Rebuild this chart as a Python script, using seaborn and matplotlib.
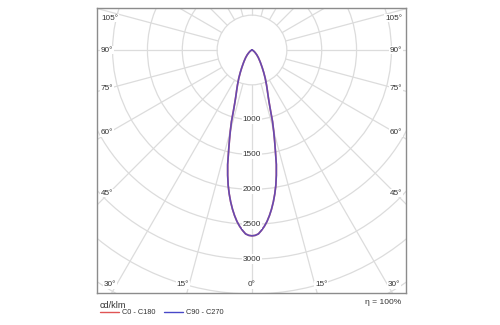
import numpy as np
import pandas as pd
import seaborn as sns
import matplotlib
matplotlib.use("Agg")
import matplotlib.pyplot as plt
from matplotlib.patches import Circle

# ---- data (cd/klm vs. gamma angle) ----
angles = [0, 1, 2, 3, 4, 5, 6, 7, 8, 9, 10, 11, 12, 13, 14, 15, 16, 17, 18, 19, 20, 21,
          22.5, 25, 27.5, 30, 32.5, 35, 40, 45, 50, 55, 60, 70, 80, 90]
c0_c180 = [2666, 2660, 2640, 2592, 2536, 2470, 2390, 2300, 2200, 2090, 1970, 1830, 1680,
           1495, 1340, 1200, 1070, 910, 800, 720, 660, 610,
           545, 450, 365, 295, 240, 200, 140, 95, 60, 38, 22, 8, 2, 0]
c90_c270 = [2666, 2660, 2640, 2592, 2536, 2470, 2390, 2300, 2200, 2090, 1970, 1830, 1680,
            1495, 1340, 1200, 1070, 910, 800, 720, 660, 610,
            545, 450, 365, 295, 240, 200, 140, 95, 60, 38, 22, 8, 2, 0]
series_names = ["C0 - C180", "C90 - C270"]
series_colors = ["#e05454", "#4848c8"]
radial_ticks = [1000, 1500, 2000, 2500, 3000]
grid_radii = [500, 1000, 1500, 2000, 2500, 3000, 3500, 4000, 4500]
side_angle_labels = [45, 60, 75, 90, 105]
bottom_angle_labels = [0, 15, 30]
unit_label = "cd/klm"
eta_label = "η = 100%"

sns.set_theme(style="white")
plt.rcParams["font.family"] = ["Liberation Sans", "DejaVu Sans"]

fig = plt.figure(figsize=(5, 3.25), dpi=100)
ax = fig.add_axes([97 / 500, 1 - 293 / 325, 309 / 500, 285 / 325])
PX = 1000 / 69.7  # data units per pixel
xmin, xmax = -155 * PX, 154 * PX
ymin, ymax = -243 * PX, 42 * PX
ax.set_xlim(xmin, xmax)
ax.set_ylim(ymin, ymax)
ax.set_xticks([])
ax.set_yticks([])
for s in ax.spines.values():
    s.set_color("#8c8c8c")
    s.set_linewidth(1.0)

grid_c = "#dcdcdc"
for r in grid_radii:
    ax.add_patch(Circle((0, 0), r, fill=False, ec=grid_c, lw=0.9, zorder=1))
for a in range(0, 360, 15):
    t = np.radians(a)
    ax.plot([500 * np.sin(t), 8000 * np.sin(t)], [-500 * np.cos(t), -8000 * np.cos(t)],
            color=grid_c, lw=0.9, zorder=1)

# curves
def curve_df(vals):
    th = np.array([-a for a in angles[::-1]] + angles[1:], dtype=float)
    I = np.array(vals[::-1] + vals[1:], dtype=float)
    t = np.radians(th)
    return pd.DataFrame({"x": I * np.sin(t), "y": -I * np.cos(t)})

for vals, name, col, al in zip([c0_c180, c90_c270], series_names, series_colors, [1.0, 0.8]):
    sns.lineplot(data=curve_df(vals), x="x", y="y", sort=False, estimator=None,
                 color=col, alpha=al, lw=1.2, ax=ax, label=name, zorder=3)
ax.set_xlabel("")
ax.set_ylabel("")

tc = "#333333"
fs = 5.9
for r in radial_ticks:
    ax.text(0, -r, str(r), ha="center", va="center", fontsize=fs, color=tc, zorder=4,
            bbox=dict(boxstyle="square,pad=0.15", fc="white", ec="none"))

# side angle labels
for a in side_angle_labels:
    t = np.radians(a)
    y = -143 * PX * np.cos(t) / np.sin(t)
    y = min(max(y, ymin + 10 * PX), ymax - 10 * PX)
    ax.text(xmin + 4 * PX, y, f"{a}°", ha="left", va="center", fontsize=fs, color=tc,
            zorder=4, bbox=dict(boxstyle="square,pad=0.1", fc="white", ec="none"))
    ax.text(xmax - 4 * PX, y, f"{a}°", ha="right", va="center", fontsize=fs, color=tc,
            zorder=4, bbox=dict(boxstyle="square,pad=0.1", fc="white", ec="none"))

# bottom angle labels
yb = ymin + 8 * PX
for a in bottom_angle_labels:
    x = -yb * np.tan(np.radians(a))
    if a == 0:
        ax.text(0, yb, f"{a}°", ha="center", va="center", fontsize=fs, color=tc, zorder=4,
                bbox=dict(boxstyle="square,pad=0.1", fc="white", ec="none"))
    else:
        ax.text(-x, yb, f"{a}°", ha="right", va="center", fontsize=fs, color=tc, zorder=4,
                bbox=dict(boxstyle="square,pad=0.1", fc="white", ec="none"))
        ax.text(x, yb, f"{a}°", ha="left", va="center", fontsize=fs, color=tc, zorder=4,
                bbox=dict(boxstyle="square,pad=0.1", fc="white", ec="none"))

fig.text(100 / 500, 1 - 305 / 325, unit_label, ha="left", va="center", fontsize=6.6, color=tc)
fig.text(401 / 500, 1 - 302 / 325, eta_label, ha="right", va="center", fontsize=6.1, color=tc)

leg = ax.legend(loc="upper left", bbox_to_anchor=(100 / 500, 1 - 309 / 325),
                bbox_transform=fig.transFigure, ncol=2, frameon=False, fontsize=5.3,
                handlelength=2.6, handletextpad=0.35, columnspacing=1.2, borderaxespad=0,
                borderpad=0)
for t in leg.get_texts():
    t.set_color(tc)
for h in leg.get_lines():
    h.set_alpha(1.0)
    h.set_linewidth(1.0)

fig.savefig("out.png", dpi=100)
